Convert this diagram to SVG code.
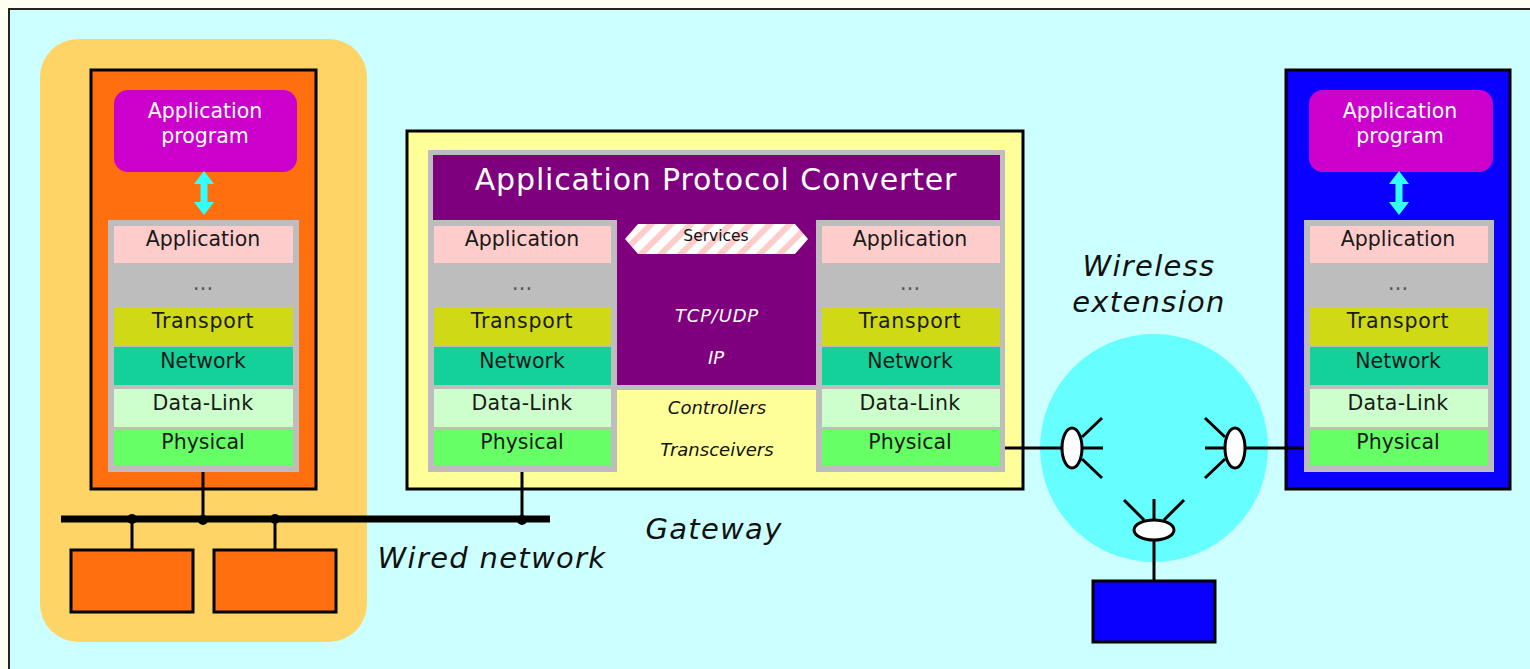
<svg xmlns="http://www.w3.org/2000/svg" xmlns:xlink="http://www.w3.org/1999/xlink" width="1530" height="669" viewBox="0 0 1530 669">
<style>
text{font-family:"DejaVu Sans","Liberation Sans",sans-serif;text-anchor:middle}
.box{stroke:#000;stroke-width:3}
.l{font-size:20.5px;fill:#1a1a1a}
.t{letter-spacing:.7px}
.d{letter-spacing:.3px}
.e{fill:#555}
.w{font-size:20.5px;fill:#fff}
.i{font-size:18px;font-style:italic;fill:#fff}
.c{font-size:18px;font-style:italic;fill:#111}
.b{font-size:29px;font-style:italic;fill:#111;letter-spacing:1.300px}
.ln{stroke:#000;stroke-width:3;fill:none}
.ant{stroke:#000;stroke-width:3;fill:#fff}
.gray{fill:#bdbdbd}
.app{fill:#ffcccc}.tr{fill:#cfd916}.nw{fill:#14d19a}.dl{fill:#ccffcc}.ph{fill:#66ff66}
</style>
<defs>
<pattern id="hatch" width="14" height="14" patternUnits="userSpaceOnUse" patternTransform="rotate(45)">
<rect width="14" height="14" fill="#fff"/><rect width="6" height="14" fill="#ffcccc"/>
</pattern>
<g id="arrow"><path d="M0-22L10-9H3.500V9H10L0 22L-10 9H-3.500V-9H-10Z" fill="#33ffff"/></g>
</defs>
<rect width="1530" height="669" fill="#fffff2"/>
<rect id="frame" x="9" y="9" width="1530" height="670" fill="#ccffff" stroke="#222" stroke-width="2"/>

<g id="wired-zone"><rect x="40" y="39" width="327" height="603" rx="38" fill="#ffd466"/></g>
<g id="wireless-zone"><circle cx="1154" cy="448" r="114" fill="#66ffff"/></g>

<g id="host-left">
<rect class="box" x="91" y="70" width="225" height="419" fill="#ff6f0f"/>
<rect x="114" y="90" width="183" height="82" rx="14" fill="#cc00cc"/>
<text class="w" x="205" y="118">Application</text><text class="w" x="205" y="143">program</text>
<use xlink:href="#arrow" x="204" y="193"/>
<rect class="gray" x="108" y="220" width="191" height="252"/>
<rect class="app" x="114" y="226" width="179" height="37"/><rect class="tr" x="114" y="307" width="179" height="38"/><rect class="nw" x="114" y="347" width="179" height="38"/><rect class="dl" x="114" y="389" width="179" height="38"/><rect class="ph" x="114" y="429" width="179" height="37"/>
<text class="l" x="203" y="246">Application</text><text class="l e" x="203" y="290">…</text><text class="l t" x="203" y="328">Transport</text><text class="l" x="203" y="368">Network</text><text class="l d" x="203" y="410">Data-Link</text><text class="l" x="203" y="449">Physical</text>
</g>

<g id="gateway">
<rect class="box" x="407" y="131" width="616" height="358" fill="#ffff99"/>
<rect class="gray" x="428" y="150" width="577" height="322"/>
<rect x="433" y="155" width="567" height="65" fill="#7f007f"/>
<rect x="617" y="220" width="199" height="165" fill="#7f007f"/>
<rect x="617" y="390" width="199" height="82" fill="#ffff99"/>
<text x="716" y="190" font-size="30" letter-spacing="0.850" fill="#fff">Application Protocol Converter</text>
<path d="M638 224H795L808 239L795 254H638L625 239Z" fill="url(#hatch)"/>
<text x="716" y="241" font-size="15.500" fill="#111">Services</text>
<text class="i" x="717" y="322" letter-spacing="0.800">TCP/UDP</text><text class="i" x="716" y="364">IP</text>
<text class="c" x="717" y="414">Controllers</text><text class="c" x="717" y="456">Transceivers</text>
<rect class="app" x="434" y="226" width="177" height="37"/><rect class="tr" x="434" y="307" width="177" height="38"/><rect class="nw" x="434" y="347" width="177" height="38"/><rect class="dl" x="434" y="389" width="177" height="38"/><rect class="ph" x="434" y="429" width="177" height="37"/>
<text class="l" x="522" y="246">Application</text><text class="l e" x="522" y="290">…</text><text class="l t" x="522" y="328">Transport</text><text class="l" x="522" y="368">Network</text><text class="l d" x="522" y="410">Data-Link</text><text class="l" x="522" y="449">Physical</text>
<rect class="app" x="822" y="226" width="178" height="37"/><rect class="tr" x="822" y="307" width="178" height="38"/><rect class="nw" x="822" y="347" width="178" height="38"/><rect class="dl" x="822" y="389" width="178" height="38"/><rect class="ph" x="822" y="429" width="178" height="37"/>
<text class="l" x="910" y="246">Application</text><text class="l e" x="910" y="290">…</text><text class="l t" x="910" y="328">Transport</text><text class="l" x="910" y="368">Network</text><text class="l d" x="910" y="410">Data-Link</text><text class="l" x="910" y="449">Physical</text>
</g>

<g id="host-right">
<rect class="box" x="1286" y="70" width="224" height="419" fill="#0a00ff"/>
<rect x="1309" y="90" width="184" height="82" rx="14" fill="#cc00cc"/>
<text class="w" x="1400" y="118">Application</text><text class="w" x="1400" y="143">program</text>
<use xlink:href="#arrow" x="1399" y="193"/>
<rect class="gray" x="1304" y="220" width="190" height="252"/>
<rect class="app" x="1310" y="226" width="178" height="37"/><rect class="tr" x="1310" y="307" width="178" height="38"/><rect class="nw" x="1310" y="347" width="178" height="38"/><rect class="dl" x="1310" y="389" width="178" height="38"/><rect class="ph" x="1310" y="429" width="178" height="37"/>
<text class="l" x="1398" y="246">Application</text><text class="l e" x="1398" y="290">…</text><text class="l t" x="1398" y="328">Transport</text><text class="l" x="1398" y="368">Network</text><text class="l d" x="1398" y="410">Data-Link</text><text class="l" x="1398" y="449">Physical</text>
</g>

<g id="connectors">
<path class="ln" d="M203 472V519M522 472V519M132 519V550M275 519V550M1005 448H1062M1246 448H1304M1154 540V581"/>
<path d="M61 519H550" stroke="#000" stroke-width="7" fill="none"/>
<circle cx="132" cy="519" r="5"/><circle cx="203" cy="520" r="5"/><circle cx="275" cy="519" r="5"/><circle cx="522" cy="520" r="5"/>
</g>

<g id="ant-left"><path class="ln" d="M1082 437L1102 418M1082 448H1103M1082 459L1102 478"/><ellipse class="ant" cx="1072" cy="448" rx="10" ry="20"/></g>
<g id="ant-right"><path class="ln" d="M1225 437L1205 418M1225 448H1205M1225 459L1205 478"/><ellipse class="ant" cx="1235" cy="448" rx="10" ry="20"/></g>
<g id="ant-bottom"><path class="ln" d="M1144 520L1124 500M1154 520V499M1164 520L1184 500"/><ellipse class="ant" cx="1154" cy="530" rx="20" ry="10"/></g>

<g id="node-a"><rect class="box" x="71" y="550" width="122" height="62" fill="#ff6f0f"/></g>
<g id="node-b"><rect class="box" x="214" y="550" width="122" height="62" fill="#ff6f0f"/></g>
<g id="node-c"><rect class="box" x="1093" y="581" width="122" height="61" fill="#0a00ff"/></g>

<text class="b" x="492" y="568">Wired network</text>
<text class="b" x="714" y="539">Gateway</text>
<text class="b" x="1149" y="276">Wireless</text>
<text class="b" x="1149" y="312">extension</text>
</svg>
